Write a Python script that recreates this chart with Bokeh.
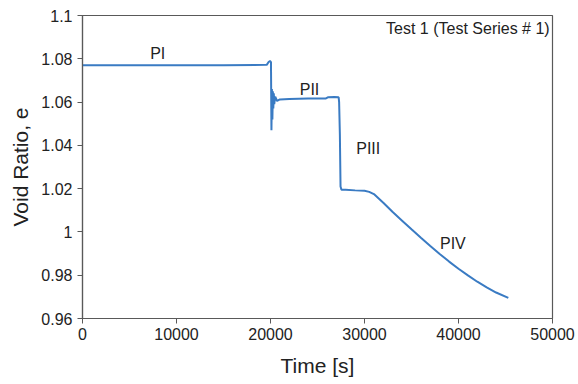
from bokeh.plotting import figure
from bokeh.embed import file_html
from bokeh.resources import INLINE
from bokeh.models import Label, FixedTicker
from bokeh.core.properties import value

time_s = [0, 5000, 10000, 15000, 19600, 19800, 19950, 20050, 20100, 20150, 20200, 20250,
          20300, 20350, 20400, 20500, 20700, 21000, 22000, 23000, 24000, 25000, 25900,
          26100, 26800, 27250, 27300, 27380, 27450, 27550, 28000, 29000, 30000, 30500,
          31000, 32000, 33000, 34000, 35000, 36000, 37000, 38000, 39000, 40000, 41000,
          42000, 43000, 44000, 45300]
void_ratio = [1.077, 1.077, 1.077, 1.077, 1.0772, 1.0785, 1.079, 1.0785, 1.047, 1.066, 1.052,
              1.065, 1.057, 1.064, 1.059, 1.0625, 1.0605, 1.0612, 1.0614, 1.0615, 1.0616, 1.0616,
              1.0617, 1.0622, 1.0623, 1.0622, 1.060, 1.045, 1.021, 1.0195, 1.0195, 1.0192,
              1.019, 1.0185, 1.0175, 1.0135, 1.0092, 1.0052, 1.0012, 0.9973, 0.9935, 0.9898,
              0.9863, 0.983, 0.9799, 0.977, 0.9744, 0.972, 0.9695]

phase_labels = ["PI", "PII", "PIII", "PIV"]
phase_x = [8000, 24150, 30400, 39400]
phase_y = [1.0824, 1.0658, 1.0385, 0.9946]

y_ticks = [0.96, 0.98, 1.0, 1.02, 1.04, 1.06, 1.08, 1.1]
y_tick_labels = ["0.96", "0.98", "1", "1.02", "1.04", "1.06", "1.08", "1.1"]
x_ticks = [0, 10000, 20000, 30000, 40000, 50000]

FONT = "Liberation Sans"
GREY = "#595959"

p = figure(width=578, height=384, x_range=(0, 50000), y_range=(0.96, 1.1),
           output_backend="svg", toolbar_location=None,
           min_border_left=82, min_border_right=26, min_border_top=15, min_border_bottom=66)
p.background_fill_color = "white"
p.border_fill_color = "white"
p.outline_line_color = GREY
p.outline_line_width = 1.2
p.xgrid.visible = False
p.ygrid.visible = False

p.line(time_s, void_ratio, line_color="#3a7bc3", line_width=2)

for ax in (p.xaxis[0], p.yaxis[0]):
    ax.axis_line_color = GREY
    ax.axis_line_width = 1.2
    ax.major_tick_line_color = GREY
    ax.major_tick_out = 5
    ax.major_tick_in = 0
    ax.minor_tick_line_color = None
    ax.major_label_text_font = FONT
    ax.major_label_text_font_size = "16px"
    ax.major_label_text_color = "#222222"
    ax.axis_label_text_font = FONT
    ax.axis_label_text_font_size = "21px"
    ax.axis_label_text_font_style = "normal"
    ax.axis_label_text_color = "#222222"

p.xaxis.ticker = FixedTicker(ticks=x_ticks)
p.yaxis.ticker = FixedTicker(ticks=y_ticks)
p.yaxis.major_label_overrides = {t: l for t, l in zip(y_ticks, y_tick_labels)}
p.xaxis.major_label_overrides = {t: str(t) for t in x_ticks}
p.xaxis.axis_label = "Time [s]"
p.yaxis.axis_label = "Void Ratio, e"
p.xaxis.major_label_standoff = 4
p.yaxis.major_label_standoff = 5
p.yaxis.axis_label_standoff = 6
p.xaxis.axis_label_standoff = 11

p.text(x=phase_x, y=phase_y, text=phase_labels, text_font=value(FONT),
       text_font_size="16px", text_color="#222222", text_align="center",
       text_baseline="middle")

p.add_layout(Label(x=49700, y=1.094, text="Test 1 (Test Series # 1)", text_font=FONT,
                   text_font_size="16px", text_color="#222222", text_align="right",
                   text_baseline="middle"))

open("out.html", "w").write(file_html(p, INLINE))
